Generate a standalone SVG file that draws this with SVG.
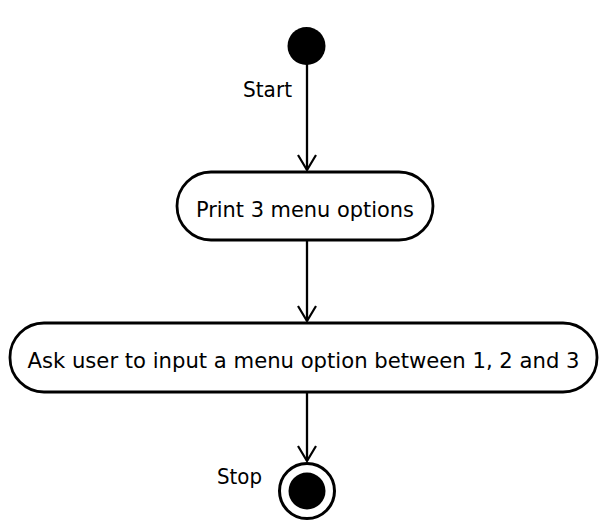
<svg xmlns="http://www.w3.org/2000/svg" width="600" height="523" viewBox="0 0 600 523">
  <defs>
    <marker id="open-arrow" viewBox="0 0 20 20" refX="18" refY="10" markerWidth="20" markerHeight="20" markerUnits="userSpaceOnUse" orient="auto">
      <path d="M3 1 L18 10 L3 19" fill="none" stroke="#000" stroke-width="2.2"/>
    </marker>
  </defs>
  <style>
    .label { font-family: "DejaVu Sans Condensed", "DejaVu Sans", "Liberation Sans", sans-serif; font-stretch: condensed; font-size: 21px; fill: #000; }
    .action { fill: #fff; stroke: #000; stroke-width: 2.8; }
    .flow { fill: none; stroke: #000; stroke-width: 2.3; marker-end: url(#open-arrow); }
  </style>
  <rect width="600" height="523" fill="#fff"/>

  <g id="connectors">
    <line class="flow" x1="307" y1="64" x2="307" y2="170"/>
    <line class="flow" x1="307" y1="241" x2="307" y2="321"/>
    <line class="flow" x1="307" y1="392" x2="307" y2="461"/>
  </g>

  <g id="start">
    <circle cx="306.5" cy="46" r="19" fill="#000"/>
    <text class="label" x="243" y="96.5" textLength="49" lengthAdjust="spacingAndGlyphs">Start</text>
  </g>

  <g id="print-menu">
    <rect class="action" x="177" y="172" width="256" height="68" rx="34" ry="34"/>
    <text class="label" x="305" y="217" text-anchor="middle" textLength="218" lengthAdjust="spacingAndGlyphs">Print 3 menu options</text>
  </g>

  <g id="ask-input">
    <rect class="action" x="10" y="323" width="587" height="69" rx="34" ry="34"/>
    <text class="label" x="303.5" y="368" text-anchor="middle" textLength="552" lengthAdjust="spacingAndGlyphs">Ask user to input a menu option between 1, 2 and 3</text>
  </g>

  <g id="stop">
    <circle cx="307" cy="491" r="27.5" fill="#fff" stroke="#000" stroke-width="3"/>
    <circle cx="307" cy="491" r="18.5" fill="#000"/>
    <text class="label" x="217" y="484" textLength="45" lengthAdjust="spacingAndGlyphs">Stop</text>
  </g>
</svg>
